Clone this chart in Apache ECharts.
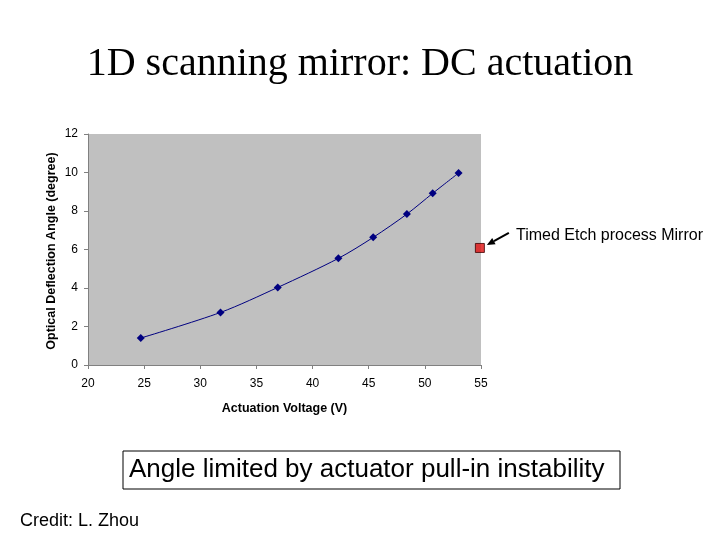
<!DOCTYPE html>
<html>
<head>
<meta charset="utf-8">
<script src="https://cdn.jsdelivr.net/npm/echarts@6/dist/echarts.min.js"></script>
<style>
  html, body { margin: 0; padding: 0; background: #ffffff; }
  #main { width: 720px; height: 540px; }
</style>
</head>
<body>
<div id="main"></div>
<script>
// measured points (voltage V, angle degree)
var voltage = [24.7, 31.8, 36.9, 42.3, 45.4, 48.4, 50.7, 53.0];
var angle = [1.4, 2.73, 4.03, 5.54, 6.63, 7.84, 8.92, 9.97];
// timed etch process mirror
var etchVoltage = [54.9];
var etchAngle = [6.08];
var xTicks = [20, 25, 30, 35, 40, 45, 50, 55];
var yTicks = [0, 2, 4, 6, 8, 10, 12];

var myChart = echarts.init(document.getElementById('main'));

var mainData = voltage.map(function (v, i) { return [v, angle[i]]; });
var etchData = etchVoltage.map(function (v, i) { return [v, etchAngle[i]]; });

myChart.setOption({
    backgroundColor: '#ffffff',
    animation: false,
    grid: {
        left: 88,
        right: 239,
        top: 134,
        bottom: 175,
        show: true,
        backgroundColor: '#c0c0c0',
        borderWidth: 0
    },
    xAxis: {
        type: 'value',
        min: xTicks[0],
        max: xTicks[xTicks.length - 1],
        interval: 5,
        name: 'Actuation Voltage (V)',
        nameLocation: 'middle',
        nameGap: 37,
        nameTextStyle: { fontFamily: 'Liberation Sans', fontSize: 12.5, fontWeight: 'bold', color: '#000' },
        axisLine: { lineStyle: { color: '#808080', width: 1 } },
        axisTick: { show: true, length: 4, lineStyle: { color: '#808080' } },
        axisLabel: { fontFamily: 'Liberation Sans', fontSize: 12, color: '#000', margin: 13 },
        splitLine: { show: false }
    },
    yAxis: {
        type: 'value',
        min: yTicks[0],
        max: yTicks[yTicks.length - 1],
        interval: 2,
        axisLine: { show: true, lineStyle: { color: '#808080', width: 1 } },
        axisTick: { show: true, length: 4, lineStyle: { color: '#808080' } },
        axisLabel: { fontFamily: 'Liberation Sans', fontSize: 12, color: '#000', margin: 10 },
        splitLine: { show: false }
    },
    series: [
        {
            name: 'measured',
            type: 'line',
            data: mainData,
            smooth: 0.3,
            symbol: 'diamond',
            symbolSize: 8,
            itemStyle: { color: '#000080' },
            lineStyle: { color: '#000080', width: 1 }
        },
        {
            name: 'Timed Etch process Mirror',
            type: 'scatter',
            data: etchData,
            symbol: 'rect',
            symbolSize: 9,
            itemStyle: { color: '#e01010', borderColor: '#400000', borderWidth: 1 }
        }
    ]
});

// annotations positioned from the data point
var p = myChart.convertToPixel({ gridIndex: 0 }, etchData[0]);
var tipX = p[0] + 7, tipY = p[1] - 3;
var tailX = tipX + 22, tailY = tipY - 12;
var ang = Math.atan2(tailY - tipY, tailX - tipX);
var ah = 8, aw = 3.5;
var bx = tipX + ah * Math.cos(ang), by = tipY + ah * Math.sin(ang);
var nx = -Math.sin(ang) * aw, ny = Math.cos(ang) * aw;

myChart.setOption({
    graphic: [
        {
            type: 'text', left: 'center', top: 44,
            style: { text: '1D scanning mirror: DC actuation', font: '40px "Liberation Serif"', fill: '#000' }
        },
        {
            // y axis title
            type: 'text', x: 52, y: 251, rotation: Math.PI / 2,
            style: { text: 'Optical Deflection Angle (degree)', font: 'bold 12.5px "Liberation Sans"', fill: '#000', textAlign: 'center', textVerticalAlign: 'middle' }
        },
        {
            type: 'line',
            shape: { x1: bx, y1: by, x2: tailX, y2: tailY },
            style: { stroke: '#000', lineWidth: 2 }
        },
        {
            type: 'polygon',
            shape: { points: [[tipX, tipY], [bx + nx, by + ny], [bx - nx, by - ny]] },
            style: { fill: '#000' }
        },
        {
            type: 'text', x: 516, y: 236, 
            style: { text: 'Timed Etch process Mirror', font: '16px "Liberation Sans"', fill: '#000', textVerticalAlign: 'middle' }
        },
        {
            type: 'rect',
            shape: { x: 123, y: 451, width: 497, height: 38 },
            style: { fill: '#fff', stroke: '#000', lineWidth: 1 }
        },
        {
            type: 'text', x: 129, y: 470,
            style: { text: 'Angle limited by actuator pull-in instability', font: '26px "Liberation Sans"', fill: '#000', textVerticalAlign: 'middle' }
        },
        {
            type: 'text', x: 20, y: 521,
            style: { text: 'Credit: L. Zhou', font: '18px "Liberation Sans"', fill: '#000', textVerticalAlign: 'middle' }
        }
    ]
});
</script>
</body>
</html>
